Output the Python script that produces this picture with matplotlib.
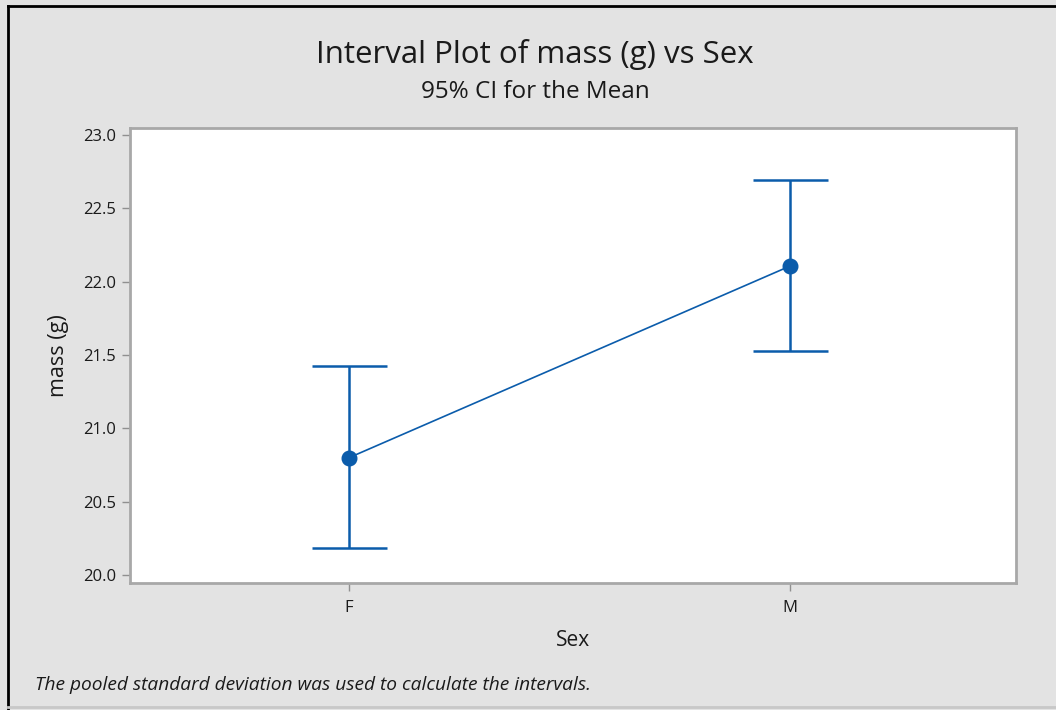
import matplotlib
matplotlib.use("Agg")
import matplotlib.pyplot as plt
from matplotlib.lines import Line2D

categories = ["F", "M"]
means = [20.80, 22.107]
lower = [20.185, 21.528]
upper = [21.425, 22.693]
yticks = [20.0, 20.5, 21.0, 21.5, 22.0, 22.5, 23.0]

plt.rcParams['font.family'] = ['Open Sans', 'DejaVu Sans']

W, H = 1056, 710
fig = plt.figure(figsize=(W / 100, H / 100), dpi=100)
fig.patch.set_facecolor('#e3e3e3')

ax = fig.add_axes([130 / W, 1 - 583 / H, (1016 - 130) / W, (583 - 128) / H])
ax.set_facecolor('white')

blue = '#0b5cab'
x = list(range(len(categories)))
yerr = [[m - l for m, l in zip(means, lower)], [u - m for m, u in zip(means, upper)]]
ax.plot(x, means, color=blue, lw=1.2, zorder=2)
ax.errorbar(x, means, yerr=yerr, fmt='o', color=blue, ms=10.5, elinewidth=1.8,
            capsize=27, capthick=1.8, zorder=3)

ax.set_xlim(-0.497, 1.512)
ax.set_ylim(19.945, 23.048)
ax.set_xticks(x)
ax.set_xticklabels(categories)
ax.set_yticks(yticks)
ax.set_yticklabels([f"{v:.1f}" for v in yticks])
ax.tick_params(axis='both', colors='#909090', labelcolor='#1a1a1a', length=6, width=1,
               labelsize=12)
ax.tick_params(axis='y', pad=4)
ax.tick_params(axis='x', pad=6)
for s in ax.spines.values():
    s.set_color('#a8a8a8')
    s.set_linewidth(2)

ax.set_xlabel("Sex", fontsize=15, color='#1a1a1a', labelpad=10)
ax.set_ylabel("mass (g)", fontsize=15.5, color='#1a1a1a', labelpad=10)

fig.text(535 / W, 1 - 55 / H, "Interval Plot of mass (g) vs Sex", ha='center', va='center',
         fontsize=22.5, color='#1a1a1a')
fig.text(535 / W, 1 - 92 / H, "95% CI for the Mean", ha='center', va='center',
         fontsize=17.5, color='#1a1a1a')
fig.text(35 / W, 1 - 685 / H, "The pooled standard deviation was used to calculate the intervals.",
         ha='left', va='center', fontsize=13.8, style='italic', color='#1a1a1a')

# outer frame lines
fig.add_artist(Line2D([8 / W, 8 / W], [0, 1 - 6 / H], transform=fig.transFigure,
                      color='black', lw=2))
fig.add_artist(Line2D([8 / W, 1], [1 - 6 / H, 1 - 6 / H], transform=fig.transFigure,
                      color='black', lw=2))
fig.add_artist(Line2D([8 / W, 1], [1 - 707 / H, 1 - 707 / H], transform=fig.transFigure,
                      color='#c8c8c8', lw=2))

fig.savefig("out.png", dpi=100, facecolor=fig.get_facecolor())
